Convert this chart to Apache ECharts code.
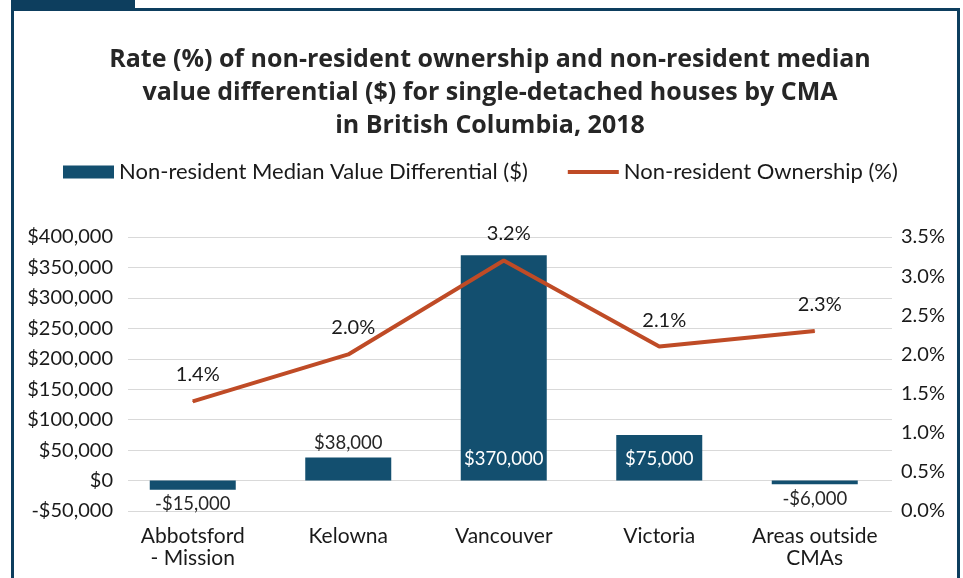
<!DOCTYPE html>
<html>
<head>
<meta charset="utf-8">
<script src="https://cdn.jsdelivr.net/npm/echarts@6/dist/echarts.min.js"></script>
<style>
  html, body { margin: 0; padding: 0; background: #fff; }
  #chart { width: 963px; height: 578px; }
</style>
</head>
<body>
<div id="chart"></div>
<script>
  // categories (CMA) and the two series
  var cmas = ['Abbotsford\n- Mission', 'Kelowna', 'Vancouver', 'Victoria', 'Areas outside\nCMAs'];
  var valueDiff = [-15000, 38000, 370000, 75000, -6000];
  var ownership = [1.4, 2.0, 3.2, 2.1, 2.3];

  var barName = 'Non-resident Median Value Differential ($)';
  var lineName = 'Non-resident Ownership (%)';

  var BLUE = '#134f6f';
  var RUST = '#bf4b26';
  var FRAME = '#0d3e5e';
  var FONT = 'Lato';

  function money(v) {
    var s = '$' + Math.abs(v).toLocaleString('en-US');
    return v < 0 ? '-' + s : s;
  }

  // where each bar label goes
  var labelPos = ['bottom', 'top', 'insideBottom', 'insideBottom', 'bottom'];
  var barData = valueDiff.map(function (v, i) {
    var inside = labelPos[i] === 'insideBottom';
    return {
      value: v,
      label: {
        position: labelPos[i],
        color: inside ? '#fff' : '#262626',
        distance: inside ? 12 : 5
      }
    };
  });

  var myChart = echarts.init(document.getElementById('chart'));
  myChart.setOption({
    animation: false,
    textStyle: { fontFamily: FONT },
    graphic: [
      { type: 'rect', shape: { x: 11, y: 0, width: 124, height: 9 }, style: { fill: FRAME } },
      { type: 'rect', shape: { x: 11, y: 8, width: 949, height: 3 }, style: { fill: FRAME } },
      { type: 'rect', shape: { x: 11, y: 8, width: 3, height: 570 }, style: { fill: FRAME } },
      { type: 'rect', shape: { x: 957, y: 8, width: 3, height: 570 }, style: { fill: FRAME } }
    ],
    title: {
      text: 'Rate (%) of non-resident ownership and non-resident median\nvalue differential ($) for single-detached houses by CMA\nin British Columbia, 2018',
      left: 485,
      textAlign: 'center',
      top: 38,
      textStyle: {
        fontFamily: 'Open Sans',
        fontWeight: 'bold',
        fontSize: 25,
        lineHeight: 33,
        color: '#262626'
      }
    },
    legend: {
      top: 161,
      left: 63,
      padding: 0,
      itemGap: 40,
      itemWidth: 51,
      itemHeight: 13,
      textStyle: { fontFamily: FONT, fontSize: 22, color: '#1a1a1a' },
      data: [
        { name: barName, icon: 'rect' },
        { name: lineName, icon: 'path://M0,0 L51,0 L51,4 L0,4 Z' }
      ]
    },
    grid: [
      { left: 128, right: 71, top: 237, bottom: 67 },
      { left: 115, right: 70.5, top: 237, bottom: 67 }
    ],
    xAxis: [
      {
        gridIndex: 0,
        type: 'category',
        data: cmas,
        show: false
      },
      {
        gridIndex: 1,
        type: 'category',
        data: cmas,
        axisLine: { show: false },
        axisTick: { show: false },
        axisLabel: {
          interval: 0,
          margin: 14,
          fontFamily: FONT,
          fontSize: 21,
          lineHeight: 22,
          color: '#1a1a1a'
        }
      }
    ],
    yAxis: [
      {
        gridIndex: 0,
        type: 'value',
        min: -50000,
        max: 400000,
        interval: 50000,
        axisLine: { show: false },
        axisTick: { show: false },
        splitLine: { lineStyle: { color: '#d9d9d9', width: 1 } },
        axisLabel: {
          margin: 15,
          fontFamily: FONT,
          fontSize: 20,
          color: '#1a1a1a',
          formatter: money
        }
      },
      {
        gridIndex: 0,
        type: 'value',
        position: 'right',
        min: 0,
        max: 3.5,
        interval: 0.5,
        axisLine: { show: false },
        axisTick: { show: false },
        splitLine: { show: false },
        axisLabel: {
          margin: 9,
          fontFamily: FONT,
          fontSize: 20,
          color: '#1a1a1a',
          formatter: function (v) { return v.toFixed(1) + '%'; }
        }
      },
      { gridIndex: 1, type: 'value', min: -50000, max: 400000, show: false, splitLine: { show: false } },
      { gridIndex: 1, type: 'value', min: 0, max: 3.5, show: false, splitLine: { show: false } }
    ],
    series: [
      {
        name: barName,
        type: 'bar',
        xAxisIndex: 1,
        yAxisIndex: 2,
        barWidth: 86,
        itemStyle: { color: BLUE },
        label: {
          show: true,
          fontFamily: FONT,
          fontSize: 18.5,
          formatter: function (p) { return money(p.value); }
        },
        data: barData
      },
      {
        name: lineName,
        type: 'line',
        xAxisIndex: 1,
        yAxisIndex: 3,
        showSymbol: true,
        symbol: 'circle',
        symbolSize: 1,
        lineStyle: { color: RUST, width: 4 },
        itemStyle: { color: RUST },
        label: {
          show: true,
          position: 'top',
          distance: 16,
          offset: [5, 0],
          fontFamily: FONT,
          fontSize: 20,
          color: '#1a1a1a',
          formatter: function (p) { return p.value.toFixed(1) + '%'; }
        },
        data: ownership
      }
    ]
  });
</script>
</body>
</html>
